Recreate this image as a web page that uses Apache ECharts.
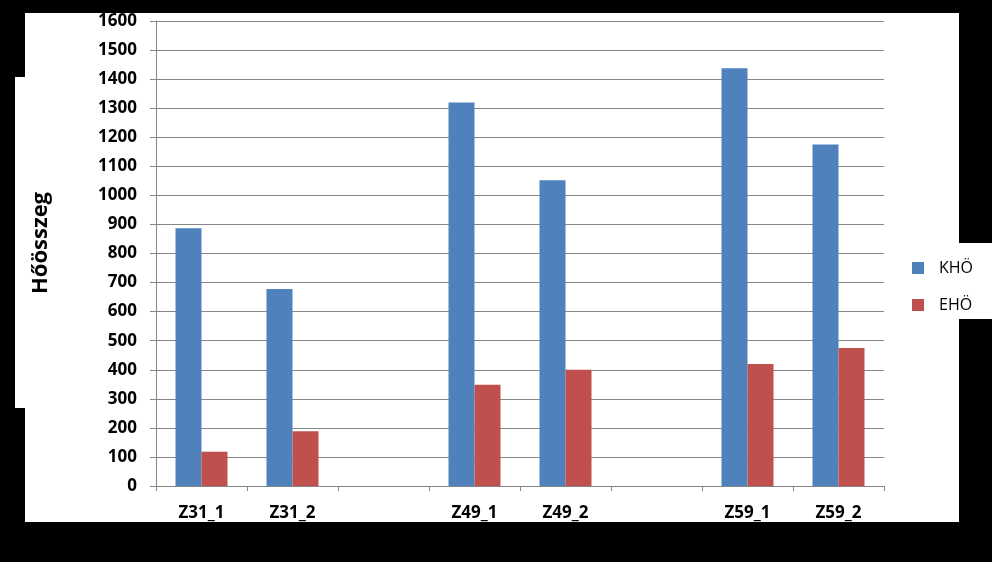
<!DOCTYPE html>
<html>
<head>
<meta charset="utf-8">
<script src="https://cdn.jsdelivr.net/npm/echarts@6/dist/echarts.min.js"></script>
<style>html,body{margin:0;padding:0;background:#000;}#c{width:992px;height:562px;}</style>
</head>
<body>
<div id="c"></div>
<script>
const categories = ['Z31_1', 'Z31_2', '', 'Z49_1', 'Z49_2', '', 'Z59_1', 'Z59_2'];
const khoValues = [887, 678, null, 1320, 1052, null, 1437, 1175];
const ehoValues = [118, 188, null, 348, 400, null, 420, 475];
const seriesNames = ['KHÖ', 'EHÖ'];
const axisTitle = 'Hőösszeg';

const FONT = '"Open Sans", "DejaVu Sans", sans-serif';
const chart = echarts.init(document.getElementById('c'), null, {renderer: 'canvas'});
chart.setOption({
  backgroundColor: '#000',
  animation: false,
  graphic: [
    {type: 'rect', z: -10, shape: {x: 25, y: 13, width: 934, height: 509}, style: {fill: '#fff'}},
    {type: 'rect', z: -10, shape: {x: 15, y: 77, width: 12, height: 331}, style: {fill: '#fff'}},
    {type: 'rect', z: -10, shape: {x: 955, y: 243, width: 37, height: 76}, style: {fill: '#fff'}},
    {type: 'rect', z: 100, shape: {x: 0, y: 522, width: 992, height: 40}, style: {fill: '#000'}},
    {type: 'text', z: 50, x: 41, y: 243, rotation: Math.PI / 2,
      style: {text: axisTitle, font: 'bold 22px ' + FONT, fill: '#000', align: 'center', verticalAlign: 'middle'}}
  ],
  grid: {left: 156, right: 108, top: 21, bottom: 76, containLabel: false},
  legend: {
    orient: 'vertical', left: 907, top: 255,
    itemWidth: 12, itemHeight: 12, itemGap: 21,
    icon: 'rect',
    textStyle: {fontFamily: FONT, fontSize: 16, color: '#000', padding: [0, 0, 0, 10]},
    data: seriesNames
  },
  xAxis: {
    type: 'category',
    data: categories,
    axisLine: {lineStyle: {color: '#868686', width: 1}},
    axisTick: {show: true, length: 5, lineStyle: {color: '#868686'}},
    axisLabel: {fontFamily: FONT, fontSize: 17, fontWeight: 'bold', color: '#000', margin: 19, interval: 0}
  },
  yAxis: {
    type: 'value', min: 0, max: 1600, interval: 100,
    axisLine: {show: true, lineStyle: {color: '#868686', width: 1}},
    axisTick: {show: true, length: 6, lineStyle: {color: '#868686'}},
    splitLine: {lineStyle: {color: '#868686', width: 1}},
    axisLabel: {fontFamily: FONT, fontSize: 17, fontWeight: 'bold', color: '#000', margin: 19,
      formatter: function (v) { return String(v); }}
  },
  series: [
    {name: seriesNames[0], type: 'bar', data: khoValues, barWidth: 26, barGap: '0%', itemStyle: {color: '#4F81BD'}},
    {name: seriesNames[1], type: 'bar', data: ehoValues, barWidth: 26, barGap: '0%', itemStyle: {color: '#C0504D'}}
  ]
});
</script>
</body>
</html>
